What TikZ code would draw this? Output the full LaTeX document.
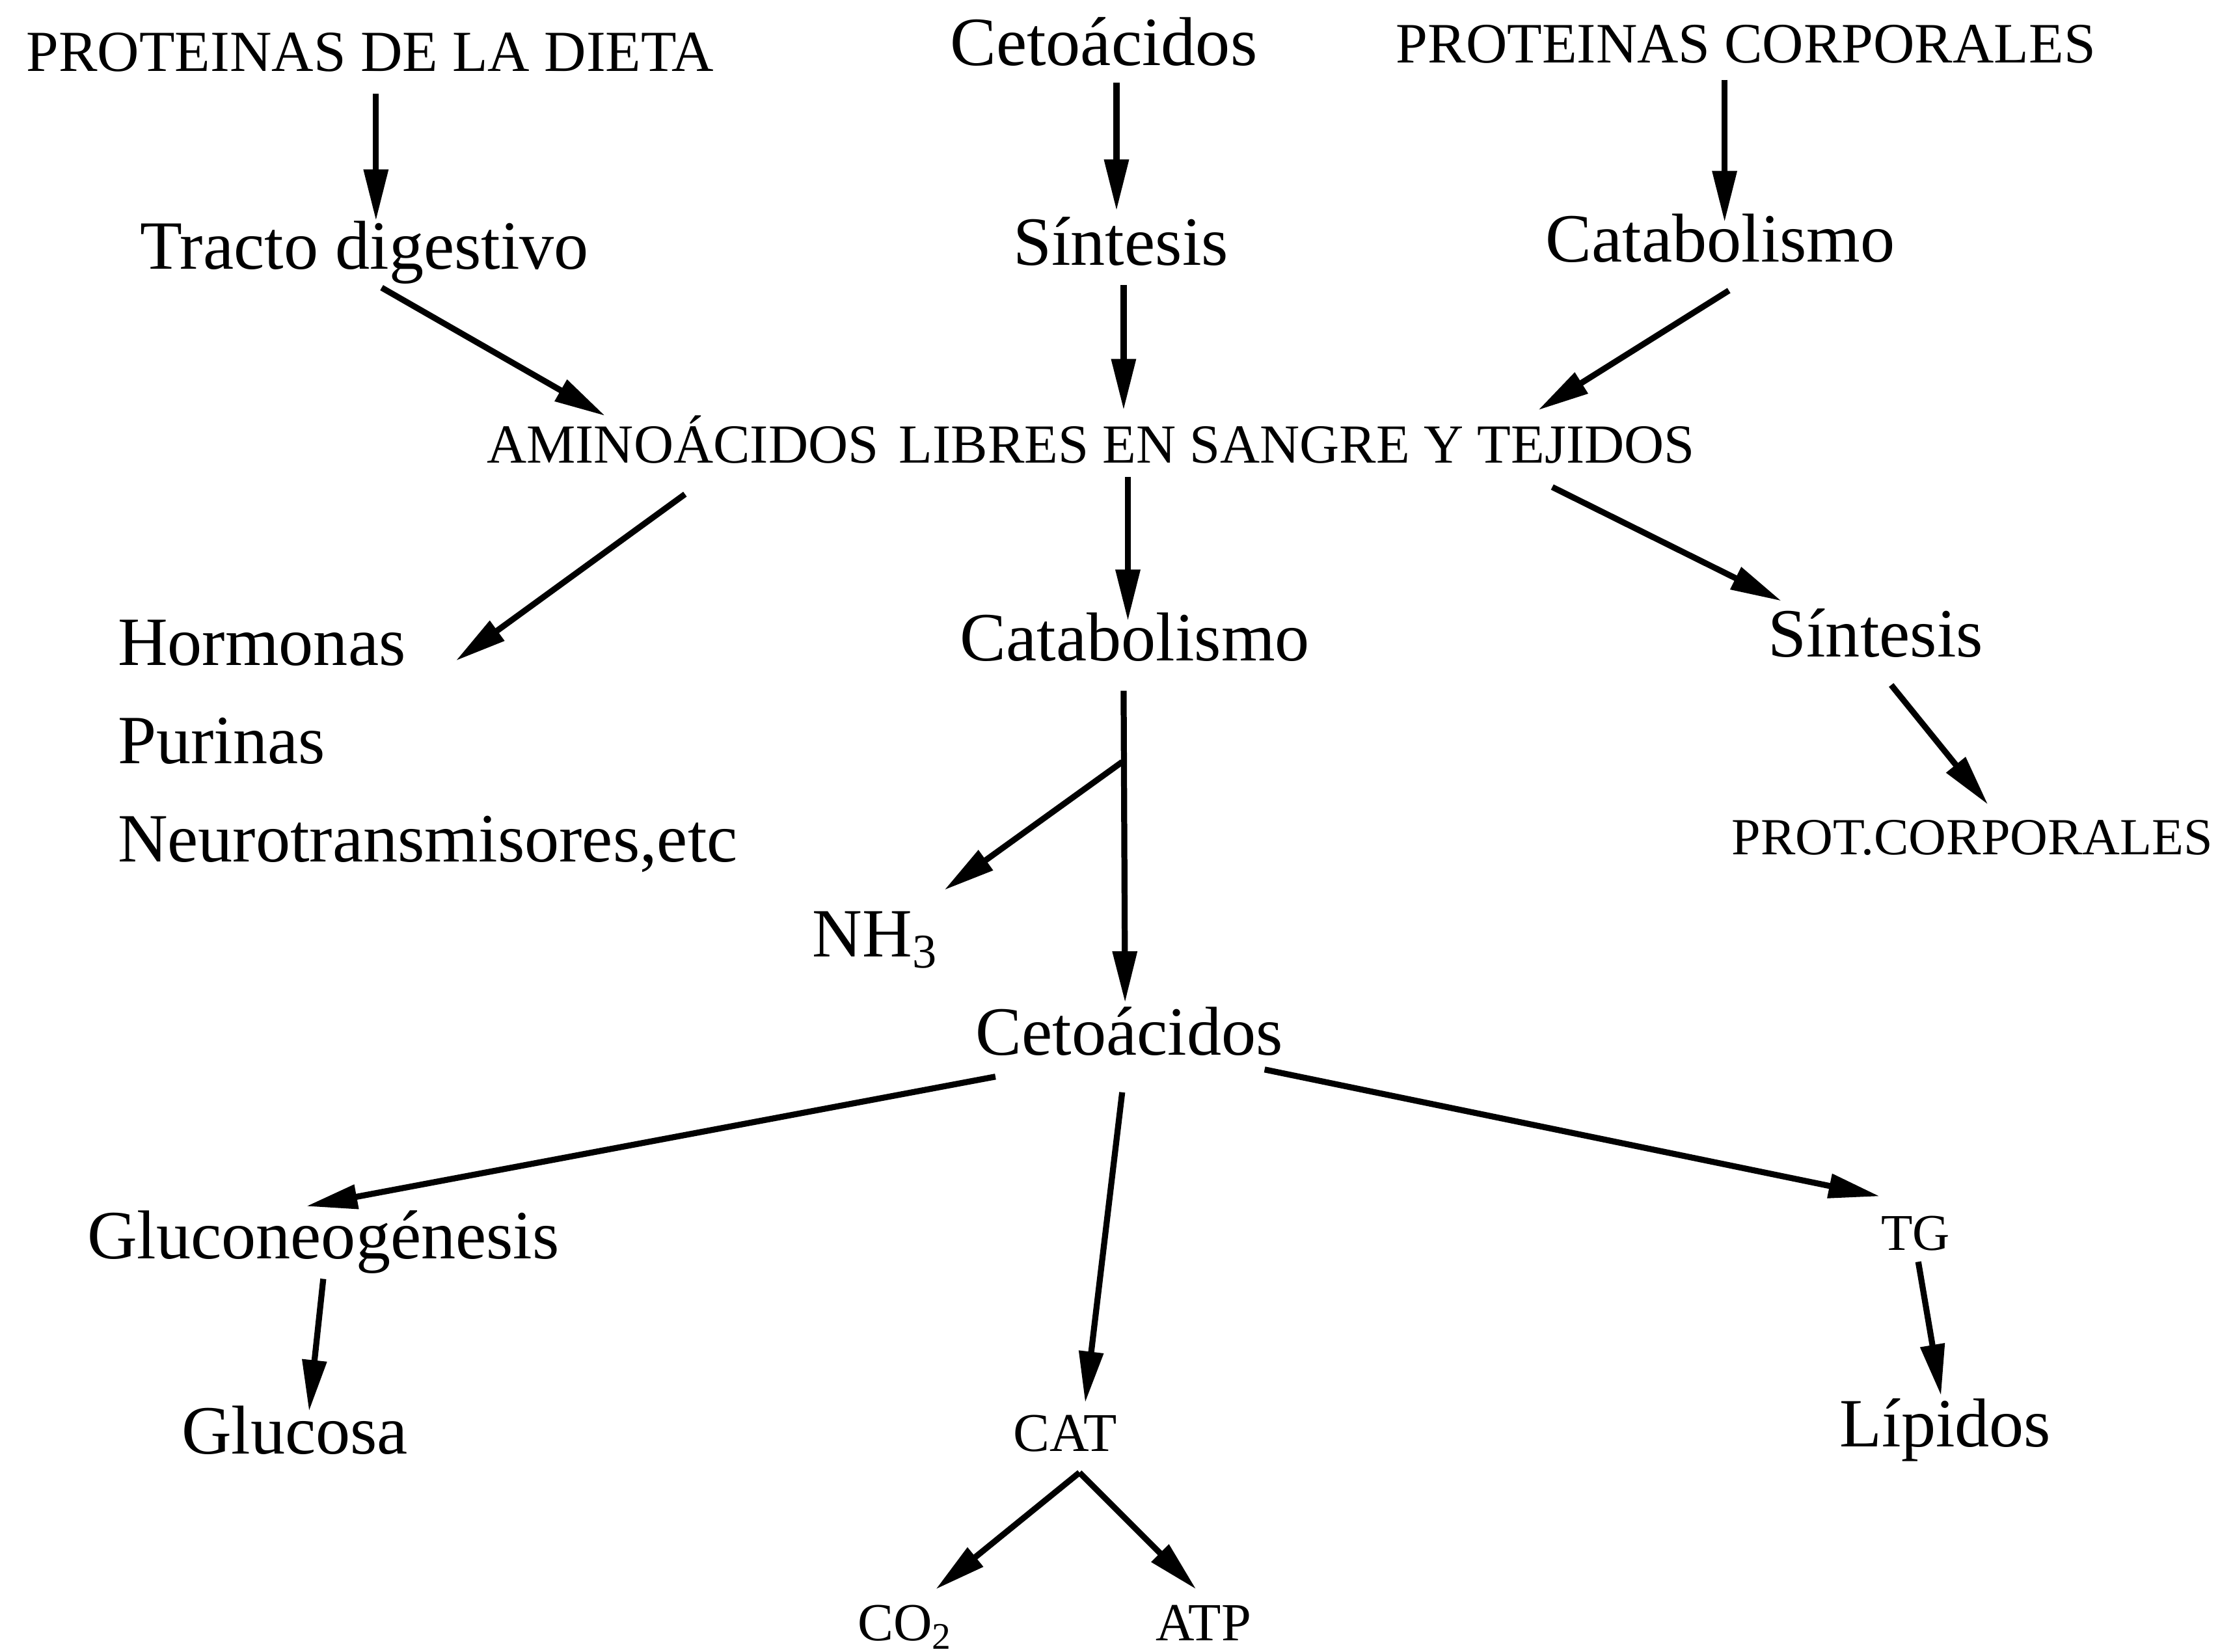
\documentclass[tikz,border=0pt]{standalone}
\usepackage{fontspec}
\setmainfont{Liberation Serif}
\usetikzlibrary{arrows.meta,calc}
\begin{document}
\begin{tikzpicture}[x=0.01cm,y=-0.01cm,
  lbl/.style={inner sep=0pt, anchor=base, font=\fontsize{13.8pt}{16pt}\selectfont},
  lblw/.style={lbl, anchor=base west},
  caps/.style={inner sep=0pt, anchor=base, font=\fontsize{#1}{13pt}\selectfont},
  arr/.style={line width=1.2pt, -{Triangle[length=0.36cm,width=0.165cm]}},
  ]
\fill[white] (0,0) rectangle (1568,1160);
\useasboundingbox (0,0) rectangle (1568,1160);

% nodes
\node[caps=11.6pt] (dieta)  at (260,50)   {PROTEINAS DE LA DIETA};
\node[lbl]         (ceto1)  at (775,46)   {Cetoácidos};
\node[caps=11.4pt] (protc)  at (1226,44)  {PROTEINAS CORPORALES};
\node[lbl]         (tracto) at (256,189)  {Tracto digestivo};
\node[lbl]         (sint1)  at (787,186)  {Síntesis};
\node[lbl]         (catab1) at (1208,184) {Catabolismo};
\node[caps=11pt]   (amino)  at (766,325)  {AMINOÁCIDOS\hspace{0.12em} LIBRES EN SANGRE Y TEJIDOS};
\node[lblw]        (horm)   at (82,467)   {Hormonas};
\node[lblw]        (purinas) at (82,536)  {Purinas};
\node[lblw]        (neuro)  at (82,605)   {Neurotransmisores,etc};
\node[lbl]         (catab2) at (797,464)  {Catabolismo};
\node[lbl]         (sint2)  at (1317,461) {Síntesis};
\node[caps=10.4pt] (protc2) at (1385,600) {PROT.CORPORALES};
\node[lbl]         (nh3)    at (615,672)  {NH\textsubscript{3}};
\node[lbl]         (ceto2)  at (793,741)  {Cetoácidos};
\node[lbl]         (gluco)  at (227,884)  {Gluconeogénesis};
\node[caps=10.3pt] (tg)     at (1345,878) {TG};
\node[lbl]         (glucosa) at (207,1021) {Glucosa};
\node[caps=10.9pt] (cat)    at (748,1019) {CAT};
\node[lbl]         (lipidos) at (1366,1016) {Lípidos};
\node[caps=10.7pt] (co2)    at (636,1152) {CO\textsubscript{2}};
\node[caps=10.7pt] (atp)    at (845,1152) {ATP};

% connectors
\draw[arr] ($(dieta.base)+(4,16)$)    -- ($(tracto.base)+(8,-34)$);
\draw[arr] ($(ceto1.base)+(9,12)$)    -- ($(sint1.base)+(-3,-38)$);
\draw[arr] ($(protc.base)+(-15,12)$)  -- ($(catab1.base)+(3,-28)$);
\draw[arr] ($(tracto.base)+(12,13)$)  -- ($(amino.base)+(-341,-33)$);
\draw[arr] ($(sint1.base)+(2,14)$)    -- ($(amino.base)+(23,-37)$);
\draw[arr] ($(catab1.base)+(6,20)$)   -- ($(amino.base)+(314,-37)$);
\draw[arr] ($(amino.base)+(-285,22)$) -- ($(horm.base west)+(238,-3)$);
\draw[arr] ($(amino.base)+(26,10)$)   -- ($(catab2.base)+(-5,-28)$);
\draw[arr] ($(amino.base)+(324,17)$)  -- ($(sint2.base)+(-66,-39)$);
\draw[arr] ($(sint2.base)+(11,20)$)   -- ($(protc2.base)+(11,-35)$);
\draw[arr] ($(catab2.base)+(-8,21)$)  -- ($(ceto2.base)+(-3,-37)$);
\coordinate (split) at ($(catab2.base)+(-9,71)$);
\draw[arr] (split) -- ($(nh3.base)+(48,-47)$);
\draw[arr] ($(ceto2.base)+(-94,15)$)  -- ($(gluco.base)+(-12,-37)$);
\draw[arr] ($(ceto2.base)+(-5,26)$)   -- ($(cat.base)+(14,-34)$);
\draw[arr] ($(ceto2.base)+(95,10)$)   -- ($(tg.base)+(-25,-38)$);
\draw[arr] ($(gluco.base)+(0,14)$)    -- ($(glucosa.base)+(10,-30)$);
\draw[arr] ($(tg.base)+(2,8)$)        -- ($(lipidos.base)+(-3,-36)$);
\draw[arr] ($(cat.base)+(10,15)$)     -- ($(co2.base)+(21,-36)$);
\draw[arr] ($(cat.base)+(10,15)$)     -- ($(atp.base)+(-5,-36)$);
\end{tikzpicture}
\end{document}
